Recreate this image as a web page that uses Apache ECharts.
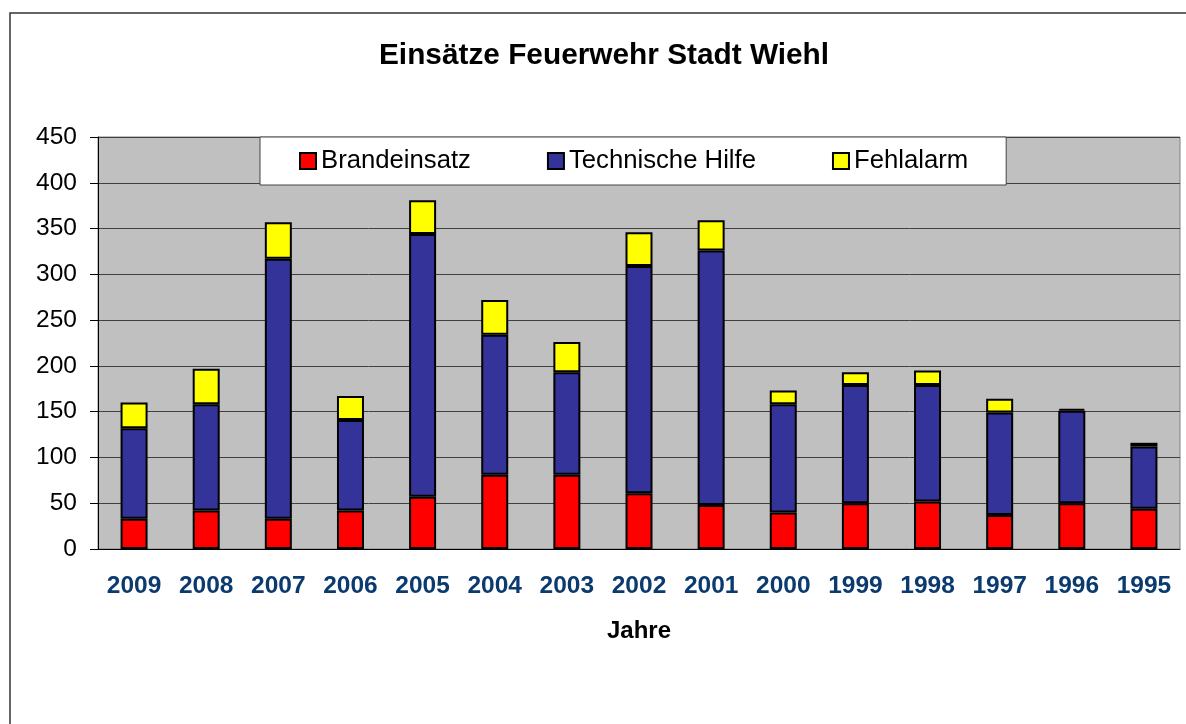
<!DOCTYPE html>
<html>
<head>
<meta charset="utf-8">
<script src="https://cdn.jsdelivr.net/npm/echarts@6/dist/echarts.min.js"></script>
<style>
  html, body { margin: 0; padding: 0; background: #fff; }
  #chart { width: 1186px; height: 724px; }
</style>
</head>
<body>
<div id="chart"></div>
<script>
// data
const years = ['2009', '2008', '2007', '2006', '2005', '2004', '2003', '2002', '2001', '2000', '1999', '1998', '1997', '1996', '1995']
const brandeinsatz = [33, 42, 33, 42, 57, 81, 81, 61, 48, 40, 50, 52, 37, 50, 44]
const technischeHilfe = [99, 116, 284, 99, 287, 153, 112, 248, 278, 118, 129, 127, 112, 101, 68]
const fehlalarm = [28, 39, 40, 26, 37, 38, 33, 37, 33, 15, 14, 16, 15, 2, 4]

const font = '"Liberation Sans", Arial, sans-serif'

const barSeries = (name, data, color) => ({
  name,
  type: 'bar',
  stack: 'total',
  data,
  barWidth: 27,
  itemStyle: { color, borderColor: '#000', borderWidth: 2 },
})

const option = {
  animation: false,
  textStyle: { fontFamily: font },
  title: {
    text: 'Einsätze Feuerwehr Stadt Wiehl',
    left: 374,
    top: 36,
    textStyle: { fontSize: 29.8, fontWeight: 'bold', color: '#000', fontFamily: font },
  },
  legend: {
    data: ['Brandeinsatz', 'Technische Hilfe', 'Fehlalarm'],
    left: 260,
    top: 137,
    icon: 'rect',
    itemWidth: 16,
    itemHeight: 16,
    itemGap: 76,
    padding: [11, 38, 11, 39],
    backgroundColor: '#fff',
    borderColor: '#444',
    borderWidth: 1,
    textStyle: { fontSize: 25.7, color: '#000', lineHeight: 25, fontFamily: font },
  },
  graphic: [{
    type: 'rect',
    shape: { x: 10, y: 13, width: 1200, height: 800 },
    style: { fill: 'none', stroke: '#333', lineWidth: 1.5 },
    silent: true,
  }],
  grid: {
    left: 98,
    right: 6,
    top: 137,
    bottom: 175,
    show: true,
    backgroundColor: '#C0C0C0',
    borderColor: '#808080',
    borderWidth: 1,
  },
  xAxis: {
    type: 'category',
    data: years,
    name: 'Jahre',
    nameLocation: 'middle',
    nameGap: 70,
    nameTextStyle: { fontSize: 24, fontWeight: 'bold', color: '#000', fontFamily: font },
    axisLine: { lineStyle: { color: '#000', width: 1 } },
    axisTick: { length: 8, lineStyle: { color: '#000' } },
    axisLabel: { interval: 0, hideOverlap: false, fontSize: 24.5, fontWeight: 'bold', color: '#0B3A6E', margin: 25, fontFamily: font },
  },
  yAxis: {
    type: 'value',
    min: 0,
    max: 450,
    interval: 50,
    axisLine: { show: true, lineStyle: { color: '#000', width: 1 } },
    axisTick: { show: true, length: 8, lineStyle: { color: '#000' } },
    axisLabel: { fontSize: 24.5, color: '#000', margin: 21, fontFamily: font },
    splitLine: { lineStyle: { color: '#404040', width: 1 } },
  },
  series: [
    barSeries('Brandeinsatz', brandeinsatz, '#FF0000'),
    barSeries('Technische Hilfe', technischeHilfe, '#333399'),
    barSeries('Fehlalarm', fehlalarm, '#FFFF00'),
  ],
}

const chart = echarts.init(document.getElementById('chart'))
chart.setOption(option)
window.addEventListener('resize', () => { chart.resize() })
</script>
</body>
</html>
